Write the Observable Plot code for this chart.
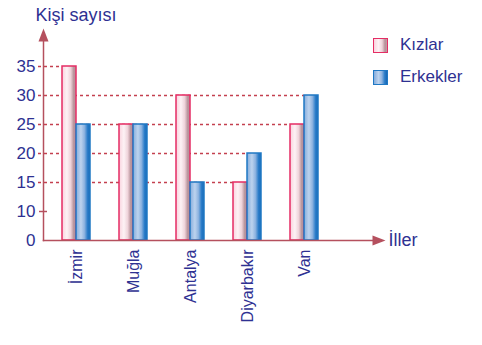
<!DOCTYPE html>
<html><head><meta charset="utf-8">
<script src="https://cdn.jsdelivr.net/npm/d3@7"></script>
<script src="https://cdn.jsdelivr.net/npm/@observablehq/plot@0.6"></script>
<style>
body{margin:0;background:#fff;}
#wrap{position:relative;width:482px;height:345px;font-family:"Liberation Sans",Arial,sans-serif;}
.leg{position:absolute;left:373px;display:flex;align-items:center;font-size:17px;color:#2e3192;}
.sw{width:15px;height:15px;margin-right:12px;box-sizing:border-box;}
</style></head><body><div id="wrap"></div>
<script>
const cities = ["İzmir", "Muğla", "Antalya", "Diyarbakır", "Van"];
const seriesNames = ["Kızlar", "Erkekler"];
const girls = [35, 25, 30, 15, 25];
const boys = [25, 25, 15, 20, 30];
const yTicks = [0, 10, 15, 20, 25, 30, 35];
const yTitle = "Kişi sayısı";
const xTitle = "İller";

const navy = "#2e3192", axisColor = "#b5505e", dashColor = "#c4404f";
const pinkStroke = "#e52d64", blueStroke = "#1f78c4";
const W = 482, H = 345, mL = 43, mR = 106, mT = 37, mB = 105;
const step = 29, bw = 28;

// broken (piecewise) value axis: each tick one equal step apart
const toStep = d3.scaleLinear().domain(yTicks).range(yTicks.map((_, i) => i));

const rows = cities.flatMap((c, i) => [
  {city: c, series: seriesNames[0], value: girls[i]},
  {city: c, series: seriesNames[1], value: boys[i]}
]);
// farthest bar reaching each tick value
const guides = [];
for (const t of yTicks) {
  let last = null;
  for (const r of rows) if (r.value === t) last = r;
  if (last) guides.push(last);
}
const guidesK = guides.filter(d => d.series === seriesNames[0]);
const guidesE = guides.filter(d => d.series === seriesNames[1]);

function defs() {
  const ns = "http://www.w3.org/2000/svg";
  const g = document.createElementNS(ns, "g");
  g.innerHTML = `<defs>
  <linearGradient id="gPink" x1="0" x2="1" y1="0" y2="0">
    <stop offset="0" stop-color="#f9d3de"/><stop offset="0.35" stop-color="#fdf2f5"/>
    <stop offset="0.62" stop-color="#efd3da"/><stop offset="0.85" stop-color="#b48f97"/>
    <stop offset="1" stop-color="#c89aa5"/></linearGradient>
  <linearGradient id="gBlue" x1="0" x2="1" y1="0" y2="0">
    <stop offset="0" stop-color="#85acdc"/><stop offset="0.35" stop-color="#bcd3ee"/>
    <stop offset="0.6" stop-color="#8db3e0"/><stop offset="0.82" stop-color="#2b7dc9"/>
    <stop offset="1" stop-color="#1767b5"/></linearGradient></defs>`;
  return g;
}

const arrowHead = {draw(ctx) { ctx.moveTo(0, -9); ctx.lineTo(5, 4); ctx.lineTo(-5, 4); ctx.closePath(); }};

const frameH = H - mT - mB;
const topStep = frameH / step; // domain top in step units so that one step = 29px

const chart = Plot.plot({
  width: W, height: H,
  marginLeft: mL, marginRight: mR, marginTop: mT, marginBottom: mB,
  style: {fontFamily: '"Liberation Sans", Arial, sans-serif', background: "transparent"},
  x: {type: "band", domain: cities, range: [43, 337], paddingInner: 29/57, paddingOuter: 1/3, round: false, axis: null},
  y: {type: "linear", domain: [0, topStep], axis: null},
  marks: [
    defs,
    Plot.ruleY(guidesK, {y: d => toStep(d.value), x1: null, x2: "city", stroke: dashColor, strokeWidth: 1.5, strokeDasharray: "3,3", insetLeft: -5, insetRight: bw}),
    Plot.ruleY(guidesE, {y: d => toStep(d.value), x1: null, x2: "city", stroke: dashColor, strokeWidth: 1.5, strokeDasharray: "3,3", insetLeft: -5, insetRight: bw / 2}),
    Plot.barY(rows.filter(d => d.series === seriesNames[0]), {x: "city", y: d => toStep(d.value), insetRight: bw / 2, fill: "url(#gPink)", stroke: pinkStroke, strokeWidth: 1.5}),
    Plot.barY(rows.filter(d => d.series === seriesNames[1]), {x: "city", y: d => toStep(d.value), insetLeft: bw / 2, fill: "url(#gBlue)", stroke: blueStroke, strokeWidth: 1.5}),
    Plot.frame({anchor: "left", stroke: axisColor, strokeWidth: 1.5}),
    Plot.frame({anchor: "bottom", stroke: axisColor, strokeWidth: 1.5}),
    Plot.axisY({ticks: [toStep(10)], tickSize: 8, dx: 4, tickFormat: () => "", stroke: axisColor, strokeWidth: 1.5, label: null}),
    Plot.axisY({ticks: yTicks.map(toStep), tickSize: 0, tickPadding: 8, tickFormat: (s, i) => String(yTicks[i]), fontSize: 17, fill: navy, label: null}),
    Plot.axisX({tickSize: 0, tickPadding: 9, rotate: -90, textAnchor: "end", lineAnchor: "middle", fontSize: 16, fill: navy, label: null}),
    Plot.dot([0], {x: null, y: null, frameAnchor: "top-left", symbol: arrowHead, r: 5, fill: axisColor, stroke: null}),
    Plot.dot([0], {x: null, y: d => d, frameAnchor: "right", symbol: arrowHead, r: 5, rotate: 90, fill: axisColor, stroke: null}),
    Plot.text([yTitle], {x: null, y: null, text: d => d, frameAnchor: "top-left", dx: -8, dy: -29, textAnchor: "start", fontSize: 18, fill: navy}),
    Plot.text([xTitle], {x: null, y: d => 0, text: d => d, frameAnchor: "right", dx: 12, textAnchor: "start", fontSize: 18, fill: navy})
  ]
});
const wrap = document.getElementById("wrap");
wrap.appendChild(chart);
const legItems = [
  {name: seriesNames[0], grad: "linear-gradient(to right,#f9d3de,#fdf2f5 35%,#efd3da 62%,#b48f97 85%,#c89aa5)", border: pinkStroke, top: 35},
  {name: seriesNames[1], grad: "linear-gradient(to right,#85acdc,#bcd3ee 35%,#8db3e0 60%,#2b7dc9 82%,#1767b5)", border: blueStroke, top: 67}
];
for (const it of legItems) {
  const d = document.createElement("div");
  d.className = "leg";
  d.style.top = it.top + "px";
  d.innerHTML = `<div class="sw" style="background:${it.grad};border:1.5px solid ${it.border}"></div><span>${it.name}</span>`;
  wrap.appendChild(d);
}
</script></body></html>
